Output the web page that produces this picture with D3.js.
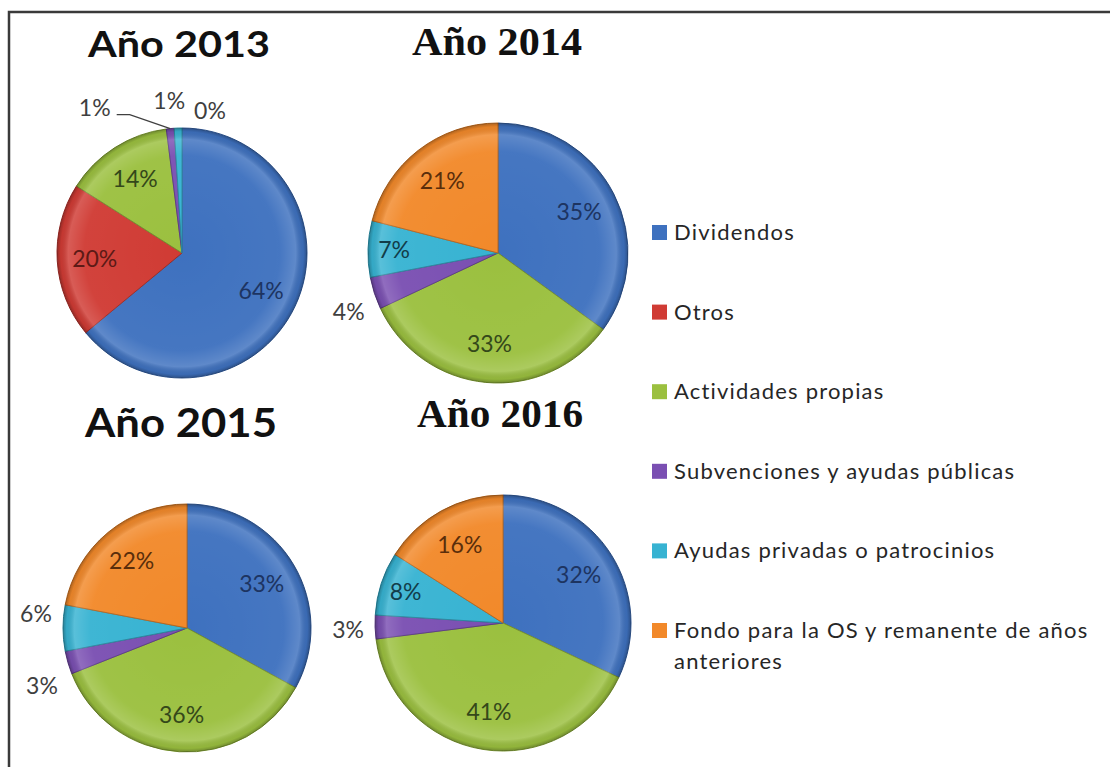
<!DOCTYPE html>
<html lang="es">
  <head>
    <meta charset="utf-8">
    <title>Origen de fondos 2013-2016</title>
    <script src="https://cdn.jsdelivr.net/npm/d3@7"></script>
    <style>
      body { margin: 0; background: #fff; }
      svg { display: block; }
      .title-sans { font-family: Lato, "Open Sans", sans-serif; font-weight: bold; }
      .title-serif { font-family: "Liberation Serif", "DejaVu Serif", serif; font-weight: bold; }
      .pct, .legend text { font-family: Lato, "Open Sans", sans-serif; }
      .legend text { letter-spacing: 1.2px; }
    </style>
  </head>
  <body>
    <script>

    // Categories (legend order = slice order, clockwise from 12 o'clock)
    var categories = [
      "Dividendos",
      "Otros",
      "Actividades propias",
      "Subvenciones y ayudas públicas",
      "Ayudas privadas o patrocinios",
      "Fondo para la OS y remanente de años anteriores"
    ];

    // Percentages per year (null = no data, no label)
    var years = ["2013", "2014", "2015", "2016"];
    var values2013 = [64, 20, 14, 1, 1, 0];
    var values2014 = [35, null, 33, 4, 7, 21];
    var values2015 = [33, null, 36, 3, 6, 22];
    var values2016 = [32, null, 41, 3, 8, 16];
    var titles = ["Año 2013", "Año 2014", "Año 2015", "Año 2016"];

    var valuesByYear = {"2013": values2013, "2014": values2014, "2015": values2015, "2016": values2016};

    // Colours
    var colors = ["#3e71bf", "#d03b34", "#9bc03f", "#7a4fb2", "#37b3d2", "#f2892a"];
    var labelColors = ["#1d3461", "#5c1a16", "#34481a", "#2e1c45", "#123d4a", "#5a2e0b"];

    //Layout (pixel positions of each pie and title)
    var w = 1110, h = 767;
    var layout = {
      "2013": {cx: 182, cy: 253, r: 125, tx: 179, ty: 57, tw: 182, ts: 37, cls: "title-sans"},
      "2014": {cx: 498, cy: 253, r: 130, tx: 497, ty: 55, tw: 170, ts: 41, cls: "title-serif"},
      "2015": {cx: 187, cy: 628, r: 124, tx: 181, ty: 437, tw: 192, ts: 41, cls: "title-sans"},
      "2016": {cx: 503, cy: 623, r: 128, tx: 500, ty: 427, tw: 166, ts: 41, cls: "title-serif"}
    };

    // labels placed outside the pie, with manual nudges [dx, dy] like in the original
    var outside = {
      "2013|3": [-73, 6], "2013|4": [-8, 0], "2013|5": [28, 10],
      "2014|3": [0, 10],
      "2015|3": [0, 16], "2015|4": [0, -14],
      "2016|3": [0, 2]
    };

    var svg = d3.select("body").append("svg")
      .attr("width", w)
      .attr("height", h);

    svg.append("rect").attr("width", w).attr("height", h).attr("fill", "#fff");

    //Frame (only top and left edges visible)
    svg.append("path")
      .attr("d", "M9," + h + "V12H" + w)
      .attr("fill", "none")
      .attr("stroke", "#3a3a3a")
      .attr("stroke-width", 2.5);

    //Bevel-like shading
    var defs = svg.append("defs");
    var grad = defs.append("radialGradient").attr("id", "bevel");
    grad.append("stop").attr("offset", "0%").attr("stop-color", "#fff").attr("stop-opacity", 0);
    grad.append("stop").attr("offset", "78%").attr("stop-color", "#fff").attr("stop-opacity", 0.04);
    grad.append("stop").attr("offset", "91%").attr("stop-color", "#fff").attr("stop-opacity", 0.17);
    grad.append("stop").attr("offset", "97%").attr("stop-color", "#000").attr("stop-opacity", 0.06);
    grad.append("stop").attr("offset", "100%").attr("stop-color", "#000").attr("stop-opacity", 0.28);

    var pie = d3.pie().sort(null).value(function(d) { return d.value || 0; });

    years.forEach(function(year, yi) {
      var L = layout[year];
      var data = valuesByYear[year].map(function(v, i) { return {value: v, i: i}; });
      var arcs = pie(data);
      var arc = d3.arc().innerRadius(0).outerRadius(L.r);

      //Title
      svg.append("text")
        .attr("class", L.cls)
        .attr("x", L.tx)
        .attr("y", L.ty)
        .attr("text-anchor", "middle")
        .attr("font-size", L.ts)
        .attr("textLength", L.tw)
        .attr("lengthAdjust", "spacingAndGlyphs")
        .attr("fill", "#111")
        .text(titles[yi]);

      var g = svg.append("g").attr("transform", "translate(" + L.cx + "," + L.cy + ")");

      //Slices
      g.selectAll("path.slice")
        .data(arcs.filter(function(d) { return d.data.value; }))
        .enter()
        .append("path")
        .attr("class", "slice")
        .attr("d", arc)
        .attr("fill", function(d) { return colors[d.data.i]; })
        .attr("stroke", function(d) { return d3.color(colors[d.data.i]).darker(0.8); })
        .attr("stroke-width", 1);

      g.append("circle").attr("r", L.r).attr("fill", "url(#bevel)");

      //Labels
      arcs.forEach(function(d) {
        if (d.data.value === null) return;
        var key = year + "|" + d.data.i;
        var mid = (d.startAngle + d.endAngle) / 2;
        var nudge = outside[key];
        var dist, color;
        if (nudge) {
          dist = L.r + 27;
          color = "#3f3f3f";
        } else {
          dist = L.r * (d.data.value < 10 ? 0.8 : 0.7);
          color = labelColors[d.data.i];
          nudge = [0, 0];
        }
        var x = Math.sin(mid) * dist + nudge[0];
        var y = -Math.cos(mid) * dist + nudge[1];

        // leader line when the label was dragged far away
        if (Math.abs(nudge[0]) > 40) {
          var ex = Math.sin(mid) * L.r, ey = -Math.cos(mid) * L.r;
          g.append("path")
            .attr("d", "M" + (x + 22) + "," + (y + 7) + "H" + (x + 35) + "L" + ex + "," + ey)
            .attr("fill", "none")
            .attr("stroke", "#404040")
            .attr("stroke-width", 1.3);
        }

        g.append("text")
          .attr("class", "pct")
          .attr("x", x)
          .attr("y", y)
          .attr("dy", "0.36em")
          .attr("text-anchor", "middle")
          .attr("font-size", 23)
          .attr("fill", color)
          .text(d.data.value + "%");
      });
    });

    //Legend
    var legendX = 652, legendY0 = 232, legendStep = 79.6;
    var legend = svg.append("g").attr("class", "legend");
    categories.forEach(function(c, i) {
      var y = legendY0 + i * legendStep;
      legend.append("rect")
        .attr("x", legendX)
        .attr("y", y - 7)
        .attr("width", 15)
        .attr("height", 15)
        .attr("fill", colors[i]);
      var t = legend.append("text")
        .attr("x", legendX + 22)
        .attr("y", y + 8)
        .attr("font-size", 22)
        .attr("fill", "#262626");
      // simple word wrap
      var words = c.split(" "), line = [], tspan = t.append("tspan").attr("x", legendX + 22);
      words.forEach(function(word) {
        line.push(word);
        tspan.text(line.join(" "));
        if (tspan.node().getComputedTextLength() > 425 && line.length > 1) {
          line.pop();
          tspan.text(line.join(" "));
          line = [word];
          tspan = t.append("tspan").attr("x", legendX + 22).attr("dy", 31).text(word);
        }
      });
    });

    </script>
  </body>
</html>
